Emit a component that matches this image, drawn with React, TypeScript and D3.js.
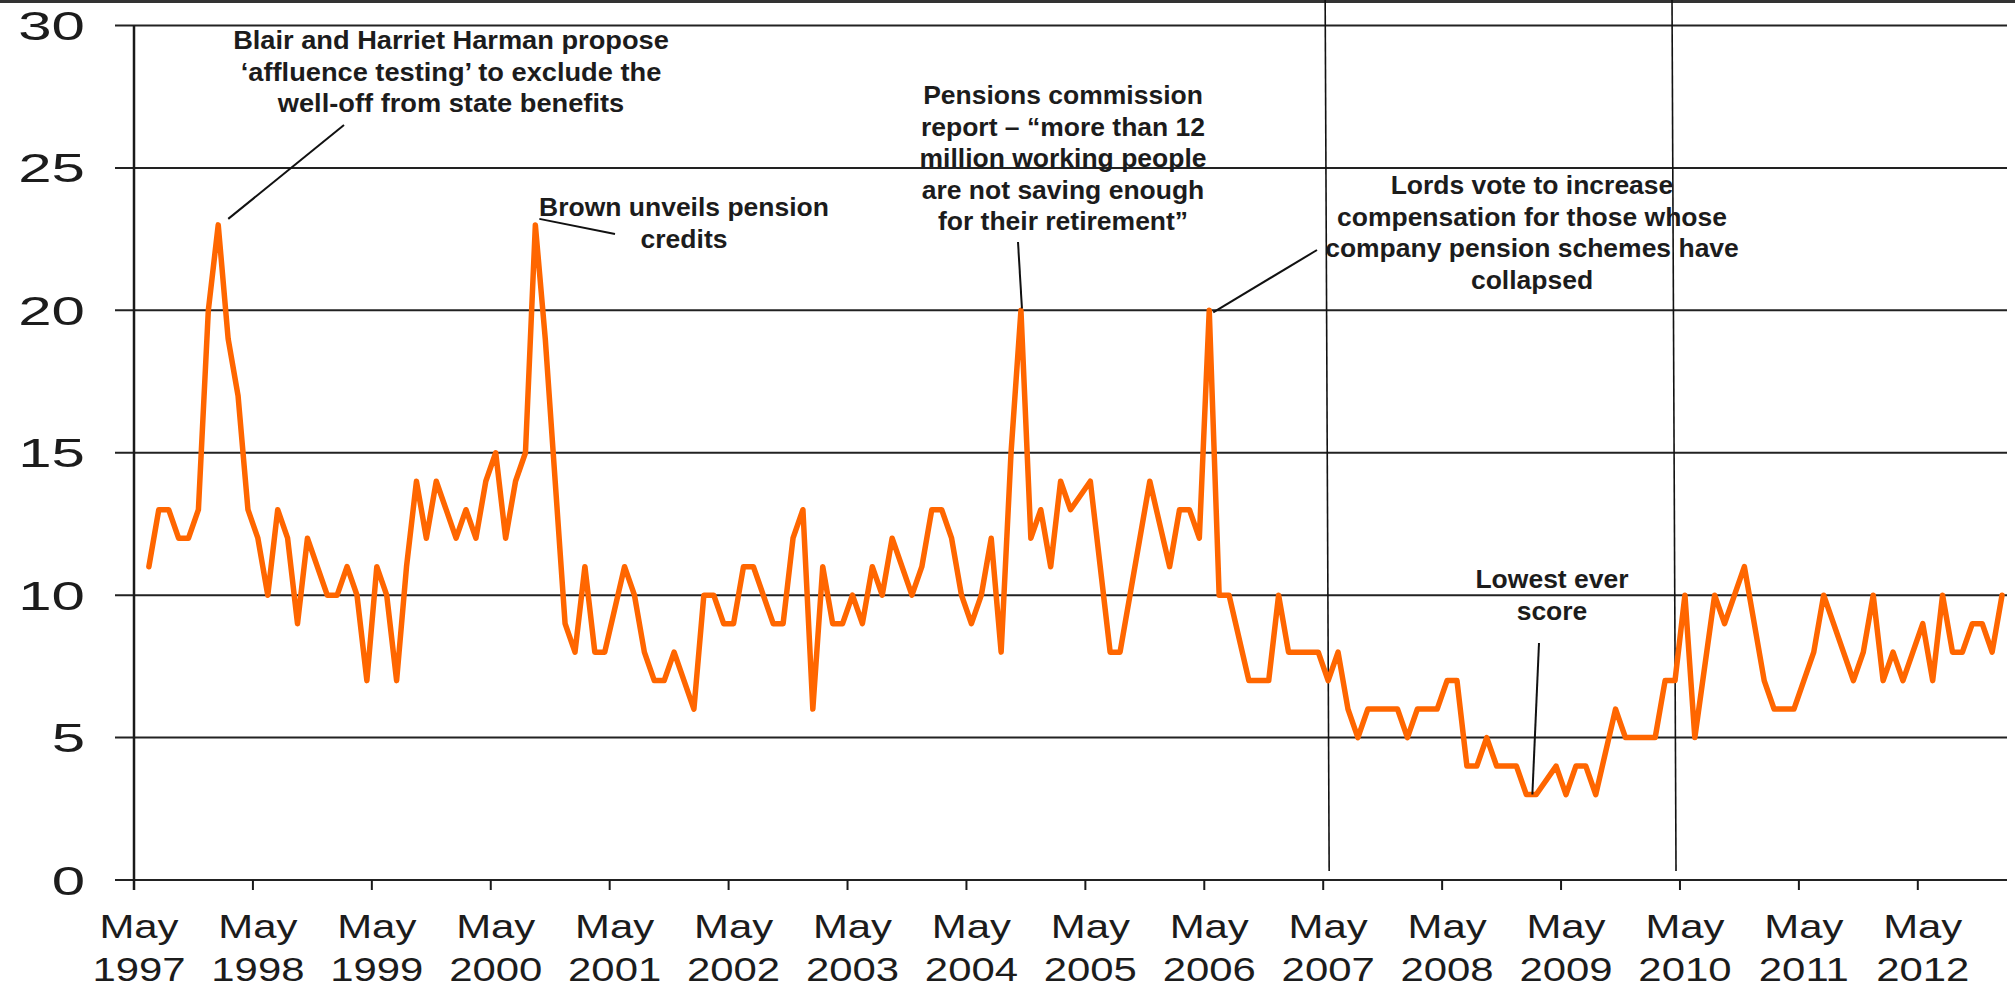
import React from "react";
import * as d3 from "d3";

// ---- Data ----
// Monthly categories from May 1997 to Jan 2013 (one per month)
const months: Date[] = d3.timeMonth.range(new Date(1997, 4, 1), new Date(2013, 1, 1));

// Series values (null = no reading that month; line joins across)
const values: (number | null)[] = [
  null, 11, 13, 13, 12, 12, 13, 20, 23, 19, 17, 13, // May97-Apr98
  12, 10, 13, 12, 9, 12, 11, 10, 10, 11, 10, 7, // May98-Apr99
  11, 10, 7, 11, 14, 12, 14, 13, 12, 13, 12, 14, // May99-Apr00
  15, 12, 14, 15, 23, 19, 14, 9, 8, 11, 8, 8, // May00-Apr01
  null, 11, 10, 8, 7, 7, 8, 7, 6, 10, 10, 9, // May01-Apr02
  9, 11, 11, 10, 9, 9, 12, 13, 6, 11, 9, 9, // May02-Apr03
  10, 9, 11, 10, 12, 11, 10, 11, 13, 13, 12, 10, // May03-Apr04
  9, 10, 12, 8, 15, 20, 12, 13, 11, 14, 13, null, // May04-Apr05
  14, 11, 8, 8, 10, 12, 14, null, 11, 13, 13, 12, // May05-Apr06
  20, 10, 10, null, 7, 7, 7, 10, 8, 8, 8, 8, // May06-Apr07
  7, 8, 6, 5, 6, 6, 6, 6, 5, 6, 6, 6, // May07-Apr08
  7, 7, 4, 4, 5, 4, 4, 4, 3, 3, null, 4, // May08-Apr09
  3, 4, 4, 3, null, 6, 5, 5, 5, 5, 7, 7, // May09-Apr10
  10, 5, null, 10, 9, 10, 11, 9, 7, 6, 6, 6, // May10-Apr11
  7, 8, 10, 9, 8, 7, 8, 10, 7, 8, 7, 8, // May11-Apr12
  9, 7, 10, 8, 8, 9, 9, 8, 10, // May12-Jan13
];

const tickYears: number[] = [1997, 1998, 1999, 2000, 2001, 2002, 2003, 2004, 2005, 2006, 2007, 2008, 2009, 2010, 2011, 2012];
const tickMonthName = "May";
const yTicks: number[] = [0, 5, 10, 15, 20, 25, 30];

// Event marker months (vertical lines)
const markerMonths: Date[] = [new Date(2007, 4, 1), new Date(2010, 3, 1)];

// Annotations: text lines + the data point they refer to
const annotations = [
  {
    lines: ["Blair and Harriet Harman propose", "\u2018affluence testing\u2019 to exclude the", "well-off from state benefits"],
    cx: 451, baseline: 49, sx: 1.09, pointIndex: 8, dx: 10, dy: -6, to: [344, 125],
  },
  {
    lines: ["Brown unveils pension", "credits"],
    cx: 684, baseline: 216, sx: 1.06, pointIndex: 40, dx: 4, dy: -6, to: [615, 234],
  },
  {
    lines: ["Pensions commission", "report \u2013 \u201cmore than 12", "million working people", "are not saving enough", "for their retirement\u201d"],
    cx: 1063, baseline: 104, sx: 1.06, pointIndex: 89, dx: 1, dy: -2, to: [1018, 242],
  },
  {
    lines: ["Lords vote to increase", "compensation for those whose", "company pension schemes have", "collapsed"],
    cx: 1532, baseline: 194, sx: 1.06, pointIndex: 108, dx: 4, dy: 2, to: [1317, 250],
  },
  {
    lines: ["Lowest ever", "score"],
    cx: 1552, baseline: 588, sx: 1.06, pointIndex: 140, dx: 6, dy: 0, to: [1539, 643],
  },
];

// ---- Layout ----
const W = 2015;
const H = 987;
const left = 134;
const right = 2007;
const bottom = 880;
const top = 25.5;

const keys = months.map((d) => +d);
const x = d3.scaleBand<number>().domain(keys).range([left, right]).paddingInner(0).paddingOuter(0);
const y = d3.scaleLinear().domain([0, 30]).range([bottom, top]);
const bw = x.bandwidth();
const cx = (i: number) => (x(keys[i]) as number) + bw / 2;
const keyOf = (d: Date) => +d3.timeMonth.floor(d);

const FONT = "'Liberation Sans', Arial, Helvetica, sans-serif";
const INK = "#1c1c1c";

export default function App() {
  const pts = values
    .map((v, i) => ({ i, v }))
    .filter((d) => d.v !== null) as { i: number; v: number }[];
  const linePath = d3
    .line<{ i: number; v: number }>()
    .x((d) => cx(d.i))
    .y((d) => y(d.v))(pts) as string;

  return (
    <svg
      width={W}
      height={H}
      viewBox={`0 0 ${W} ${H}`}
      style={{ position: "absolute", left: 0, top: 0, background: "#fff" }}
    >
      <rect x={0} y={0} width={W} height={H} fill="#fff" />
      <rect x={0} y={0} width={W} height={3} fill="#333" />

      {/* gridlines */}
      {yTicks.map((t) => (
        <line key={t} x1={115} x2={right} y1={y(t)} y2={y(t)} stroke="#222" strokeWidth={2} />
      ))}
      {/* y axis */}
      <line x1={left} x2={left} y1={top} y2={bottom + 10} stroke="#1a1a1a" strokeWidth={2.5} />
      {/* x ticks */}
      {tickYears.map((yr) => {
        const k = +new Date(yr, 4, 1);
        const tx = x(k) as number;
        return <line key={yr} x1={tx} x2={tx} y1={bottom} y2={bottom + 10} stroke="#1a1a1a" strokeWidth={2} />;
      })}

      {/* y labels */}
      {yTicks.map((t) => (
        <text
          key={t}
          transform={`translate(85,${y(t) + 14.5}) scale(1.5,1)`}
          textAnchor="end"
          fontFamily={FONT}
          fontSize={40}
          fill={INK}
        >
          {t}
        </text>
      ))}

      {/* x labels */}
      {tickYears.map((yr) => {
        const k = +new Date(yr, 4, 1);
        const lx = (x(k) as number) + bw / 2;
        return (
          <g key={yr} fontFamily={FONT} fontSize={33.5} fill={INK}>
            <text transform={`translate(${lx},938) scale(1.25,1)`} textAnchor="middle">
              {tickMonthName}
            </text>
            <text transform={`translate(${lx},981) scale(1.25,1)`} textAnchor="middle">
              {yr}
            </text>
          </g>
        );
      })}

      {/* event marker lines */}
      {markerMonths.map((m, j) => {
        const i = keys.indexOf(keyOf(m));
        const mx = cx(i);
        return <line key={j} x1={mx - 3} x2={mx + 1} y1={0} y2={871} stroke="#111" strokeWidth={1.6} />;
      })}

      {/* data line */}
      <path d={linePath} fill="none" stroke="#FF6600" strokeWidth={5.5} strokeLinejoin="round" strokeLinecap="round" />

      {/* annotations */}
      {annotations.map((a, j) => {
        const v = values[a.pointIndex] as number;
        const px = cx(a.pointIndex) + a.dx;
        const py = y(v) + a.dy;
        return (
          <g key={j}>
            <line x1={px} y1={py} x2={a.to[0]} y2={a.to[1]} stroke="#111" strokeWidth={2} />
            {a.lines.map((ln, k) => (
              <text
                key={k}
                transform={`translate(${a.cx},${a.baseline + k * 31.5}) scale(${a.sx},1)`}
                textAnchor="middle"
                fontFamily={FONT}
                fontWeight="bold"
                fontSize={25}
                fill={INK}
              >
                {ln}
              </text>
            ))}
          </g>
        );
      })}
    </svg>
  );
}
